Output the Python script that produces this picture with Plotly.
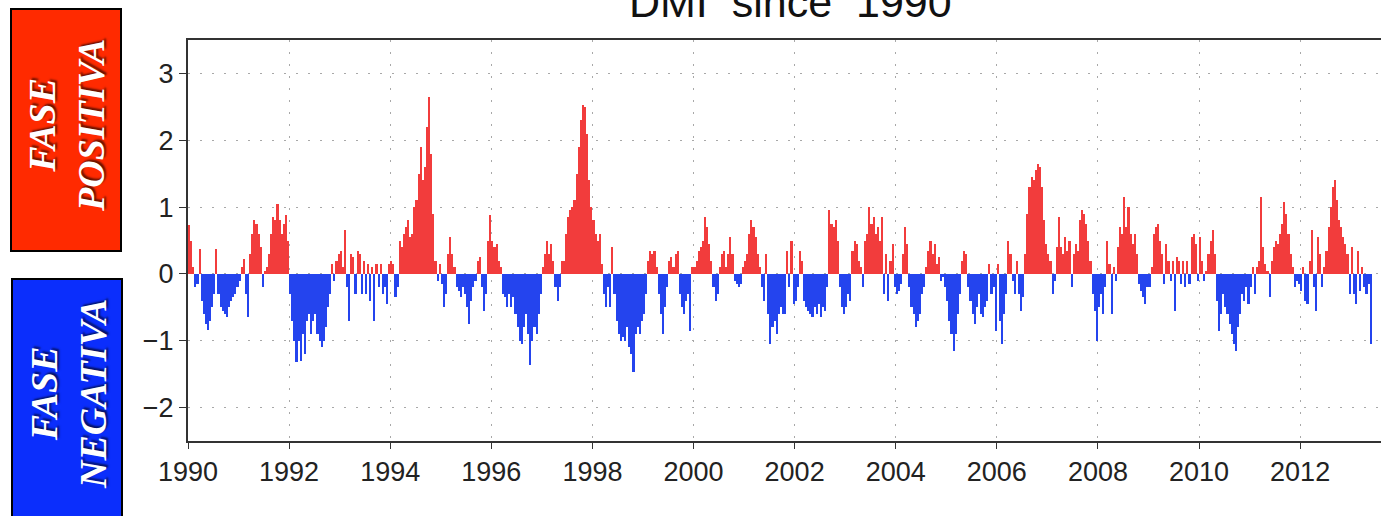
import plotly.graph_objects as go

# DMI (Dipole Mode Index) at roughly half-month steps
dmi_1990 = [0.73, 0.5, 0.1, -0.2, -0.15, 0.38, -0.4, -0.6, -0.75, -0.84, -0.7, -0.5,
            -0.3, 0.38, -0.3, -0.5, -0.55, -0.6, -0.64, -0.5, -0.4, -0.35, -0.3, -0.2]
dmi_1991 = [-0.1, 0.1, 0.23, -0.3, -0.64, 0.3, 0.6, 0.8, 0.75, 0.6, 0.4, -0.2,
            0.05, 0.1, 0.3, 0.6, 0.85, 0.8, 1.05, 0.8, 0.6, 0.75, 0.88, 0.5]
dmi_1992 = [-0.3, -0.7, -1.0, -1.32, -1.0, -1.3, -0.9, -1.2, -0.7, -0.6, -0.9, -0.7,
            -0.6, -0.9, -1.0, -1.1, -1.0, -0.8, -0.5, -0.3, 0.15, -0.1, 0.2, 0.3]
dmi_1993 = [0.35, 0.1, 0.65, -0.2, -0.7, 0.3, 0.25, -0.3, 0.35, 0.3, -0.3, 0.2,
            -0.3, 0.15, -0.4, 0.1, -0.7, 0.15, -0.2, 0.15, -0.3, -0.2, -0.45, 0.15]
dmi_1994 = [0.2, 0.15, -0.35, -0.2, 0.5, 0.4, 0.6, 0.7, 0.8, 0.55, 0.6, 1.0,
            1.1, 1.5, 1.9, 1.4, 1.6, 2.2, 2.65, 1.8, 0.9, 0.2, -0.1, 0.15]
dmi_1995 = [-0.15, -0.5, -0.3, 0.3, 0.55, 0.3, 0.1, -0.2, -0.25, -0.35, -0.2, -0.3,
            -0.5, -0.75, -0.4, -0.2, -0.1, 0.2, 0.25, -0.2, -0.55, -0.3, 0.5, 0.88]
dmi_1996 = [0.5, 0.4, 0.45, 0.2, 0.1, -0.3, -0.35, -0.5, -0.3, -0.5, -0.35, -0.6,
            -0.8, -1.0, -1.05, -0.8, -0.6, -0.9, -1.37, -1.0, -0.8, -0.9, -0.6, -0.3]
dmi_1997 = [0.1, 0.3, 0.5, 0.3, 0.45, 0.2, -0.2, -0.4, -0.2, 0.2, 0.2, 0.6,
            0.85, 0.95, 1.0, 1.1, 1.5, 1.9, 2.3, 2.53, 2.5, 2.1, 1.4, 1.0]
dmi_1998 = [0.8, 0.6, 0.5, 0.6, 0.15, -0.3, -0.5, -0.2, -0.5, 0.4, -0.3, -0.7,
            -0.9, -1.0, -0.95, -1.0, -0.8, -1.1, -1.2, -1.47, -0.9, -0.8, -0.9, -0.7]
dmi_1999 = [-0.6, -0.3, 0.2, 0.35, 0.3, 0.35, 0.1, -0.3, -0.6, -0.9, -0.5, -0.2,
            0.2, 0.25, 0.1, 0.3, 0.35, -0.3, -0.5, -0.6, -0.4, -0.3, -0.85, 0.1]
dmi_2000 = [0.1, 0.2, 0.35, 0.4, 0.5, 0.85, 0.7, 0.45, 0.2, -0.2, -0.4, -0.3,
            0.1, 0.3, 0.35, 0.1, 0.3, 0.55, 0.3, -0.1, -0.15, -0.2, -0.15, 0.1]
dmi_2001 = [0.2, 0.3, 0.6, 0.8, 0.7, 0.55, 0.3, 0.1, -0.2, -0.4, 0.3, -0.6,
            -1.05, -0.8, -0.7, -0.9, -0.6, -0.5, -0.6, -0.6, 0.35, -0.2, 0.5, -0.45]
dmi_2002 = [-0.4, -0.2, 0.35, 0.2, -0.4, -0.5, -0.55, -0.6, -0.65, -0.5, -0.6, -0.45,
            -0.65, -0.5, -0.55, -0.2, 0.95, 0.75, 0.7, 0.8, 0.5, -0.2, -0.5, -0.6]
dmi_2003 = [-0.5, -0.3, -0.4, 0.35, 0.5, 0.45, 0.2, 0.1, -0.2, 0.5, 0.6, 1.0,
            0.75, 0.85, 0.6, 0.7, 0.5, 0.85, -0.3, 0.3, -0.4, 0.2, 0.45, -0.2]
dmi_2004 = [-0.3, -0.25, -0.15, 0.3, 0.7, 0.45, -0.2, -0.5, -0.6, -0.8, -0.7, -0.6,
            -0.3, -0.2, 0.1, 0.35, 0.5, 0.3, 0.45, 0.15, 0.25, -0.1, -0.05, -0.2]
dmi_2005 = [-0.4, -0.7, -0.9, -1.15, -0.9, -0.6, -0.3, 0.2, 0.35, 0.3, -0.2, -0.4,
            -0.6, -0.75, -0.5, -0.3, -0.6, -0.65, -0.5, -0.4, 0.15, -0.3, -0.2, -0.85]
dmi_2006 = [0.15, -0.7, -1.05, -0.6, -0.3, 0.5, 0.3, -0.1, -0.3, 0.2, -0.3, -0.55,
            -0.35, 0.3, 0.9, 1.3, 1.45, 1.4, 1.55, 1.65, 1.6, 1.3, 0.8, 0.45]
dmi_2007 = [0.3, 0.2, -0.3, -0.1, 0.4, 0.85, 0.4, 0.3, 0.55, 0.35, 0.5, -0.2,
            0.3, 0.45, 0.35, 0.8, 0.95, 0.9, 0.75, 0.5, 0.2, -0.3, -0.55, -1.0]
dmi_2008 = [-0.5, -0.3, -0.6, -0.2, 0.5, 0.15, -0.6, 0.1, -0.1, 0.4, 0.7, 0.6,
            1.15, 0.7, 1.0, 0.6, 0.45, 0.6, 0.3, -0.15, -0.25, -0.35, -0.45, -0.2]
dmi_2009 = [-0.2, 0.1, 0.6, 0.7, 0.75, 0.5, 0.3, -0.15, 0.45, 0.2, -0.1, 0.2,
            -0.55, 0.25, 0.2, -0.15, 0.2, -0.2, 0.2, -0.15, 0.55, 0.6, 0.45, -0.1]
dmi_2010 = [0.55, 0.2, -0.1, 0.05, 0.3, 0.5, 0.65, 0.3, -0.4, -0.85, -0.6, -0.3,
            -0.5, -0.6, -0.75, -0.9, -1.05, -1.15, -0.8, -0.6, -0.3, -0.4, -0.2, -0.45]
dmi_2011 = [-0.2, 0.1, -0.3, 0.1, 0.2, 1.15, 0.4, 0.15, 0.05, -0.35, 0.2, 0.4,
            0.5, 0.45, 0.6, 0.75, 1.08, 0.9, 0.6, 0.3, 0.1, -0.2, -0.1, -0.15]
dmi_2012 = [-0.25, 0.1, -0.4, -0.45, 0.2, 0.65, -0.2, -0.55, 0.55, 0.3, -0.2, 0.1,
            0.35, 0.7, 1.0, 1.3, 1.4, 1.1, 0.8, 0.7, 0.55, 0.45, 0.3, -0.3]
dmi_2013 = [0.4, -0.3, -0.45, 0.35, -0.25, 0.1, -0.2, -0.3, -0.15, -1.05]

years = list(range(1990, 2014))
by_year = [dmi_1990, dmi_1991, dmi_1992, dmi_1993, dmi_1994, dmi_1995, dmi_1996,
           dmi_1997, dmi_1998, dmi_1999, dmi_2000, dmi_2001, dmi_2002, dmi_2003,
           dmi_2004, dmi_2005, dmi_2006, dmi_2007, dmi_2008, dmi_2009, dmi_2010,
           dmi_2011, dmi_2012, dmi_2013]

x_tick_vals = list(range(1990, 2013, 2))
y_tick_vals = [-2, -1, 0, 1, 2, 3]

t = []
dmi = []
for yr, vals in zip(years, by_year):
    for i, v in enumerate(vals):
        t.append(yr + (i + 0.5) / 24)
        dmi.append(v)

RED = "#f23c3c"
BLUE = "#2444ee"
colors = [RED if v >= 0 else BLUE for v in dmi]

# plot area in pixels (used to place the side boxes / title in paper coords)
L, T, W, H = 188, 40, 1193, 401


def px(x):
    return (x - L) / W


def py(y):
    return (T + H - y) / H


fig = go.Figure(go.Bar(x=t, y=dmi, width=1 / 24, marker=dict(color=colors, line=dict(width=0))))

grid = dict(showgrid=True, gridcolor="#a8a8a8", gridwidth=1, griddash="2px,10px")
fig.update_xaxes(range=[1990, 2013.6], tickvals=x_tick_vals, ticktext=[str(v) for v in x_tick_vals],
                 showline=True, linecolor="#333", linewidth=2, mirror=True,
                 ticks="outside", ticklen=6, tickcolor="#333", zeroline=False, **grid)
fig.update_yaxes(range=[-2.5, 3.5], tickvals=y_tick_vals, showline=True, linecolor="#333",
                 linewidth=2, ticks="outside", ticklen=7, tickcolor="#333",
                 zeroline=False, **grid)

fig.update_layout(
    width=1381, height=516,
    margin=dict(l=L, r=0, t=T, b=516 - T - H),
    plot_bgcolor="white", paper_bgcolor="white",
    bargap=0, showlegend=False,
    font=dict(family="Liberation Sans, Arial, sans-serif", size=27, color="#222"),
    shapes=[
        dict(type="rect", xref="paper", yref="paper", x0=px(11), x1=px(121), y0=py(251), y1=py(9),
             fillcolor="#ff2a00", line=dict(color="black", width=2), layer="above"),
        dict(type="rect", xref="paper", yref="paper", x0=px(12), x1=px(122), y0=py(540), y1=py(279),
             fillcolor="#0b2efc", line=dict(color="black", width=2), layer="above"),
    ],
    annotations=[
        dict(text="DMI\u00a0\u00a0since\u00a0\u00a01990", xref="paper", yref="paper",
             x=px(791), y=py(28), xanchor="center", yanchor="bottom", showarrow=False,
             font=dict(size=43, color="#111")),
        dict(text="<b><i>FASE<br>POSITIVA</i></b>", xref="paper", yref="paper",
             x=px(67), y=py(126), xanchor="center", yanchor="middle", showarrow=False,
             textangle=-90,
             font=dict(family="Liberation Serif, Times New Roman, serif", size=38, color="white",
                       shadow="2px 2px 2px rgba(0,0,0,0.6)")),
        dict(text="<b><i>FASE<br>NEGATIVA</i></b>", xref="paper", yref="paper",
             x=px(68), y=py(394), xanchor="center", yanchor="middle", showarrow=False,
             textangle=-90,
             font=dict(family="Liberation Serif, Times New Roman, serif", size=38, color="white",
                       shadow="2px 2px 2px rgba(0,0,0,0.6)")),
    ],
)

# drop the browser's default 8px body margin so the figure sits at the window corner
fig.write_html("out.html", config={"displayModeBar": False},
               post_script="document.body.style.margin='0';")
